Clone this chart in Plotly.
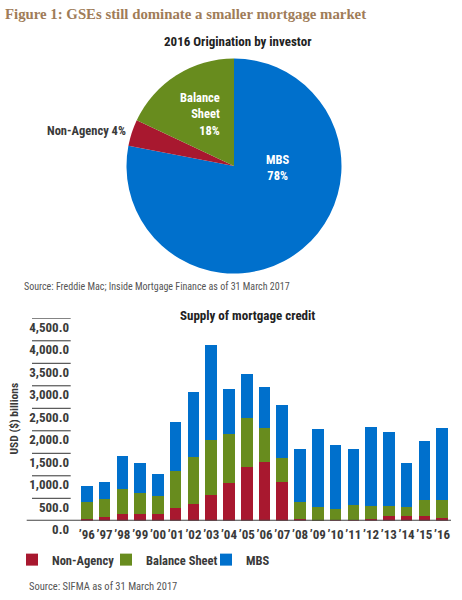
import plotly.graph_objects as go

# ---------- data ----------
pie_labels = ["MBS", "Non-Agency", "Balance Sheet"]
pie_values = [78, 4, 18]

years = ["’96", "’97", "’98", "’99", "’00", "’01", "’02", "’03", "’04", "’05", "’06",
         "’07", "’08", "’09", "’10", "’11", "’12", "’13", "’14", "’15", "’16"]
non_agency = [40, 85, 150, 150, 150, 285, 375, 575, 840, 1195, 1305,
              865, 40, 5, 20, 20, 40, 105, 105, 105, 65]
balance_sheet = [380, 400, 555, 465, 400, 820, 1045, 1220, 1090, 1090, 755,
                 530, 380, 300, 245, 335, 290, 225, 200, 355, 400]
mbs = [355, 380, 735, 670, 490, 1090, 1445, 2110, 1000, 980, 910,
       1180, 1180, 1735, 1420, 1245, 1755, 1645, 980, 1310, 1600]
y_ticks = [0, 500, 1000, 1500, 2000, 2500, 3000, 3500, 4000, 4500]

# ---------- style ----------
W, H = 462, 600
BLUE = "#0070CC"
GREEN = "#688C1E"
RED = "#A8182F"
DARK = "#3A3A3A"
NARROW = "Liberation Sans Narrow, Roboto Condensed, Arial Narrow, sans-serif"
colors = {"MBS": BLUE, "Non-Agency": RED, "Balance Sheet": GREEN}


def px(x):
    return x / W


def py(y):
    return 1 - y / H


fig = go.Figure()

# pie
fig.add_trace(go.Pie(
    labels=pie_labels, values=pie_values, sort=False, direction="clockwise",
    rotation=0, marker=dict(colors=[colors[l] for l in pie_labels]),
    textinfo="none", hoverinfo="label+percent", showlegend=False,
    domain=dict(x=[px(126.5), px(341.5)], y=[py(273.5), py(58.5)]),
))

# stacked bars, each series with its own legend box
legend_ids = {"Non-Agency": "legend", "Balance Sheet": "legend2", "MBS": "legend3"}
legend_x = {"Non-Agency": 12, "Balance Sheet": 106, "MBS": 206}
for name, vals in [("Non-Agency", non_agency), ("Balance Sheet", balance_sheet), ("MBS", mbs)]:
    fig.add_trace(go.Bar(x=years, y=vals, name=name, legend=legend_ids[name],
                         marker=dict(color=colors[name], line=dict(width=0)),
                         xaxis="x", yaxis="y"))

annotations = []
# pie labels
pie_text_pos = {
    "MBS": dict(x=277, y=167, color="white", align="center", xanchor="center"),
    "Balance Sheet": dict(x=222, y=114, color="white", align="right", xanchor="right"),
    "Non-Agency": dict(x=128, y=131, color=DARK, align="right", xanchor="right"),
}
for lab, val in zip(pie_labels, pie_values):
    p = pie_text_pos[lab]
    if lab == "Non-Agency":
        txt = f"{lab} {val}%"
    else:
        txt = f"{lab.replace(' ', '<br>')}<br>{val}%"
    annotations.append(dict(
        x=px(p["x"]), y=py(p["y"]), xref="paper", yref="paper", text=f"<b>{txt}</b>",
        showarrow=False, xanchor=p["xanchor"], yanchor="middle", align=p["align"],
        font=dict(family=NARROW, size=12.5, color=p["color"])))

annotations += [
    dict(x=px(237.5), y=py(41), xref="paper", yref="paper", showarrow=False,
         text="<b>2016 Origination by investor</b>", xanchor="center", yanchor="middle",
         font=dict(family=NARROW, size=13, color="#222222")),
    dict(x=px(22), y=py(287), xref="paper", yref="paper", showarrow=False,
         text="Source: Freddie Mac; Inside Mortgage Finance as of 31 March 2017",
         xanchor="left", yanchor="middle", font=dict(family=NARROW, size=10, color="#555555")),
    dict(x=px(247), y=py(315), xref="paper", yref="paper", showarrow=False,
         text="<b>Supply of mortgage credit</b>", xanchor="center", yanchor="middle",
         font=dict(family=NARROW, size=13, color="#222222")),
    dict(x=px(13.5), y=py(419), xref="paper", yref="paper", showarrow=False,
         text="<b>USD ($) billions</b>", textangle=-90, xanchor="center", yanchor="middle",
         font=dict(family=NARROW, size=11.5, color=DARK)),
    dict(x=px(26.5), y=py(586), xref="paper", yref="paper", showarrow=False,
         text="Source: SIFMA as of 31 March 2017",
         xanchor="left", yanchor="middle", font=dict(family=NARROW, size=10.5, color="#555555")),
]

shapes = []
for t in y_ticks[1:]:
    shapes.append(dict(type="line", xref="paper", yref="y", x0=px(32), x1=px(70.7), y0=t, y1=t,
                       line=dict(color="#333333", width=1)))
shapes.append(dict(type="line", xref="paper", yref="y", x0=px(26.7), x1=px(451), y0=0, y1=0,
                   line=dict(color="#444444", width=2)))

legend_common = dict(orientation="h", xanchor="left", yanchor="middle", y=py(560),
                     font=dict(family=NARROW, size=12.5, color=DARK, weight="bold"),
                     bgcolor="rgba(0,0,0,0)")

fig.update_layout(
    width=W, height=H, autosize=False,
    margin=dict(l=0, r=0, t=0, b=0),
    paper_bgcolor="white", plot_bgcolor="white",
    title=dict(text="<b>Figure 1: GSEs still dominate a smaller mortgage market</b>",
               x=px(5), xanchor="left", xref="paper", y=py(14), yanchor="middle",
               font=dict(family="Liberation Serif, DejaVu Serif, serif", size=14.8, color="#A07C58")),
    barmode="stack", bargap=0.35,
    xaxis=dict(domain=[px(78), px(451)], showgrid=False, zeroline=False, showline=False,
               ticks="", tickangle=0, automargin=False, ticklabelstandoff=4,
               tickfont=dict(family=NARROW, size=13, color=DARK, weight="bold"), fixedrange=True),
    yaxis=dict(domain=[py(520.8), py(318.3)], range=[0, 4500], tickvals=y_ticks,
               tickformat=",.1f", ticklabelposition="outside bottom", ticks="", automargin=False,
               showgrid=False, zeroline=False, showline=False, ticklabelstandoff=8,
               tickfont=dict(family=NARROW, size=13, color=DARK, weight="bold"), fixedrange=True),
    legend=dict(legend_common, x=px(legend_x["Non-Agency"])),
    legend2=dict(legend_common, x=px(legend_x["Balance Sheet"])),
    legend3=dict(legend_common, x=px(legend_x["MBS"])),
    annotations=annotations, shapes=shapes,
)

fig.write_html("out.html", config={"displayModeBar": False},
               post_script="document.body.style.margin='0';")
